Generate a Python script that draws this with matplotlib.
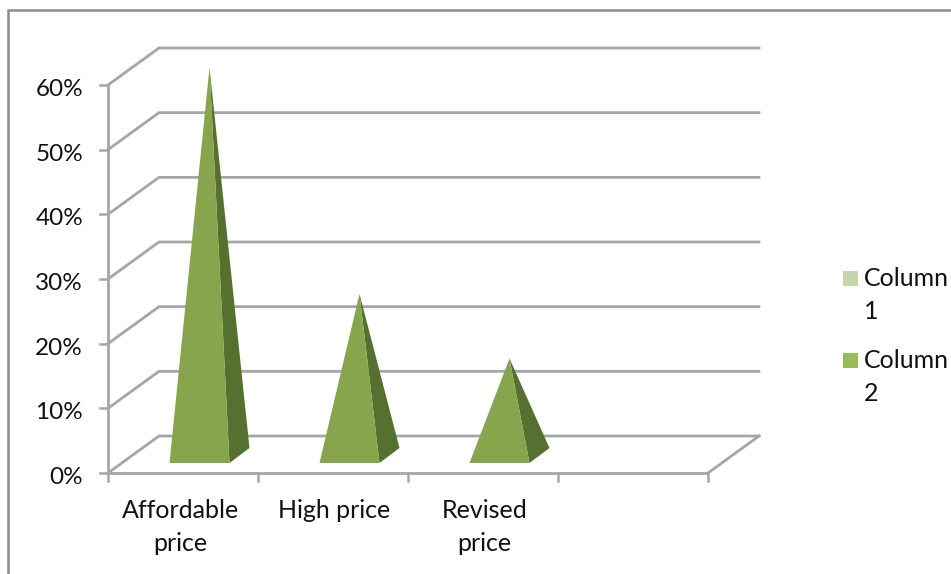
import matplotlib
matplotlib.use("Agg")
import matplotlib.pyplot as plt
from matplotlib.patches import Polygon, Rectangle
from matplotlib.lines import Line2D

categories = ["Affordable\nprice", "High price", "Revised\nprice", ""]
column_1 = [0, 0, 0, 0]
column_2 = [60, 25, 15, 0]
y_ticks = [0, 10, 20, 30, 40, 50, 60]
y_labels = ["0%", "10%", "20%", "30%", "40%", "50%", "60%"]
series_names = ["Column\n1", "Column\n2"]

W, H = 951, 574
GRID = "#A6A6A6"
FRONT = "#86A54C"
SIDE = "#56702F"
TEXT = "#111111"
FONT = "Lato"

fig = plt.figure(figsize=(W / 100, H / 100), dpi=100, facecolor="white")

# Axes span the front plane of the 3-D box: one unit per category across, percent upward.
left, right, bottom_px, top_px = 108, 708, 473, 85
ax = fig.add_axes([left / W, 1 - bottom_px / H, (right - left) / W, (bottom_px - top_px) / H])
ax.set_xlim(0, len(categories))
ax.set_ylim(0, 60)
ax.axis("off")

px_x = len(categories) / (right - left)
px_y = 60 / (bottom_px - top_px)
depth_x = 51 * px_x
depth_y = 37 * px_y
n_cat = len(categories)

# Walls and floor gridlines
for t in y_ticks:
    ax.plot([0, depth_x, n_cat + depth_x], [t, t + depth_y, t + depth_y],
            color=GRID, lw=2.0, clip_on=False, zorder=1, solid_joinstyle="miter")
ax.plot([n_cat, n_cat + depth_x], [0, depth_y], color=GRID, lw=2.0, clip_on=False, zorder=1)
ax.plot([0, n_cat], [0, 0], color=GRID, lw=2.0, clip_on=False, zorder=1.5)
ax.plot([0, 0], [0, 60], color=GRID, lw=2.0, clip_on=False, zorder=1.5)

# Axis ticks and labels
tick_x = 8 * px_x
tick_y = 8 * px_y
for t, lab in zip(y_ticks, y_labels):
    ax.plot([-tick_x, 0], [t, t], color=GRID, lw=1.8, clip_on=False, zorder=1.5)
    ax.text(-25 * px_x, t - 4.5 * px_y, lab, ha="right", va="center", fontsize=17.5,
            family=FONT, color=TEXT)
for i in range(n_cat + 1):
    ax.plot([i, i], [0, -tick_y], color=GRID, lw=1.8, clip_on=False, zorder=1.5)
label_centres = [0.485, 1.51, 2.51]
for xc, lab in zip(label_centres, categories):
    ax.text(xc, -26.5 * px_y, lab, ha="center", va="top", fontsize=18, family=FONT,
            color=TEXT, linespacing=1.5)

# Pyramids: front and right faces rising to an apex above the centre of the base
half_w = 30 * px_x
centre_shift = 16.5 * px_x
y0 = 10 * px_y
side_x = 20 * px_x
side_y = 15 * px_y
for i, v in enumerate(column_2):
    if v <= 0:
        continue
    cx = i + 0.5 + centre_shift
    x0, x1 = cx - half_w, cx + half_w
    apex = (cx + side_x / 2, v + y0 + side_y / 2)
    ax.add_patch(Polygon([(x1, y0), (x1 + side_x, y0 + side_y), apex], closed=True,
                         facecolor=SIDE, edgecolor="none", clip_on=False, zorder=3))
    ax.add_patch(Polygon([(x0, y0), (x1, y0), apex], closed=True,
                         facecolor=FRONT, edgecolor="none", clip_on=False, zorder=4))

# Legend drawn in figure pixels
for name, y_px, col in zip(series_names, [278.5, 360.5], ["#C6D6AC", "#9BBB59"]):
    fig.add_artist(Rectangle((843 / W, 1 - (y_px + 7.5) / H), 15 / W, 15 / H,
                             transform=fig.transFigure, facecolor=col, edgecolor="none"))
    fig.text(864 / W, 1 - (y_px - 11) / H, name, ha="left", va="top", fontsize=18,
             family=FONT, color=TEXT, linespacing=1.5)

# Chart-area border, open toward the right and bottom
fig.add_artist(Line2D([8 / W, 8 / W, 1], [0, 1 - 10 / H, 1 - 10 / H], transform=fig.transFigure,
                      color="#8C8C8C", lw=1.8, solid_joinstyle="miter"))

fig.savefig("out.png", dpi=100, facecolor="white")
